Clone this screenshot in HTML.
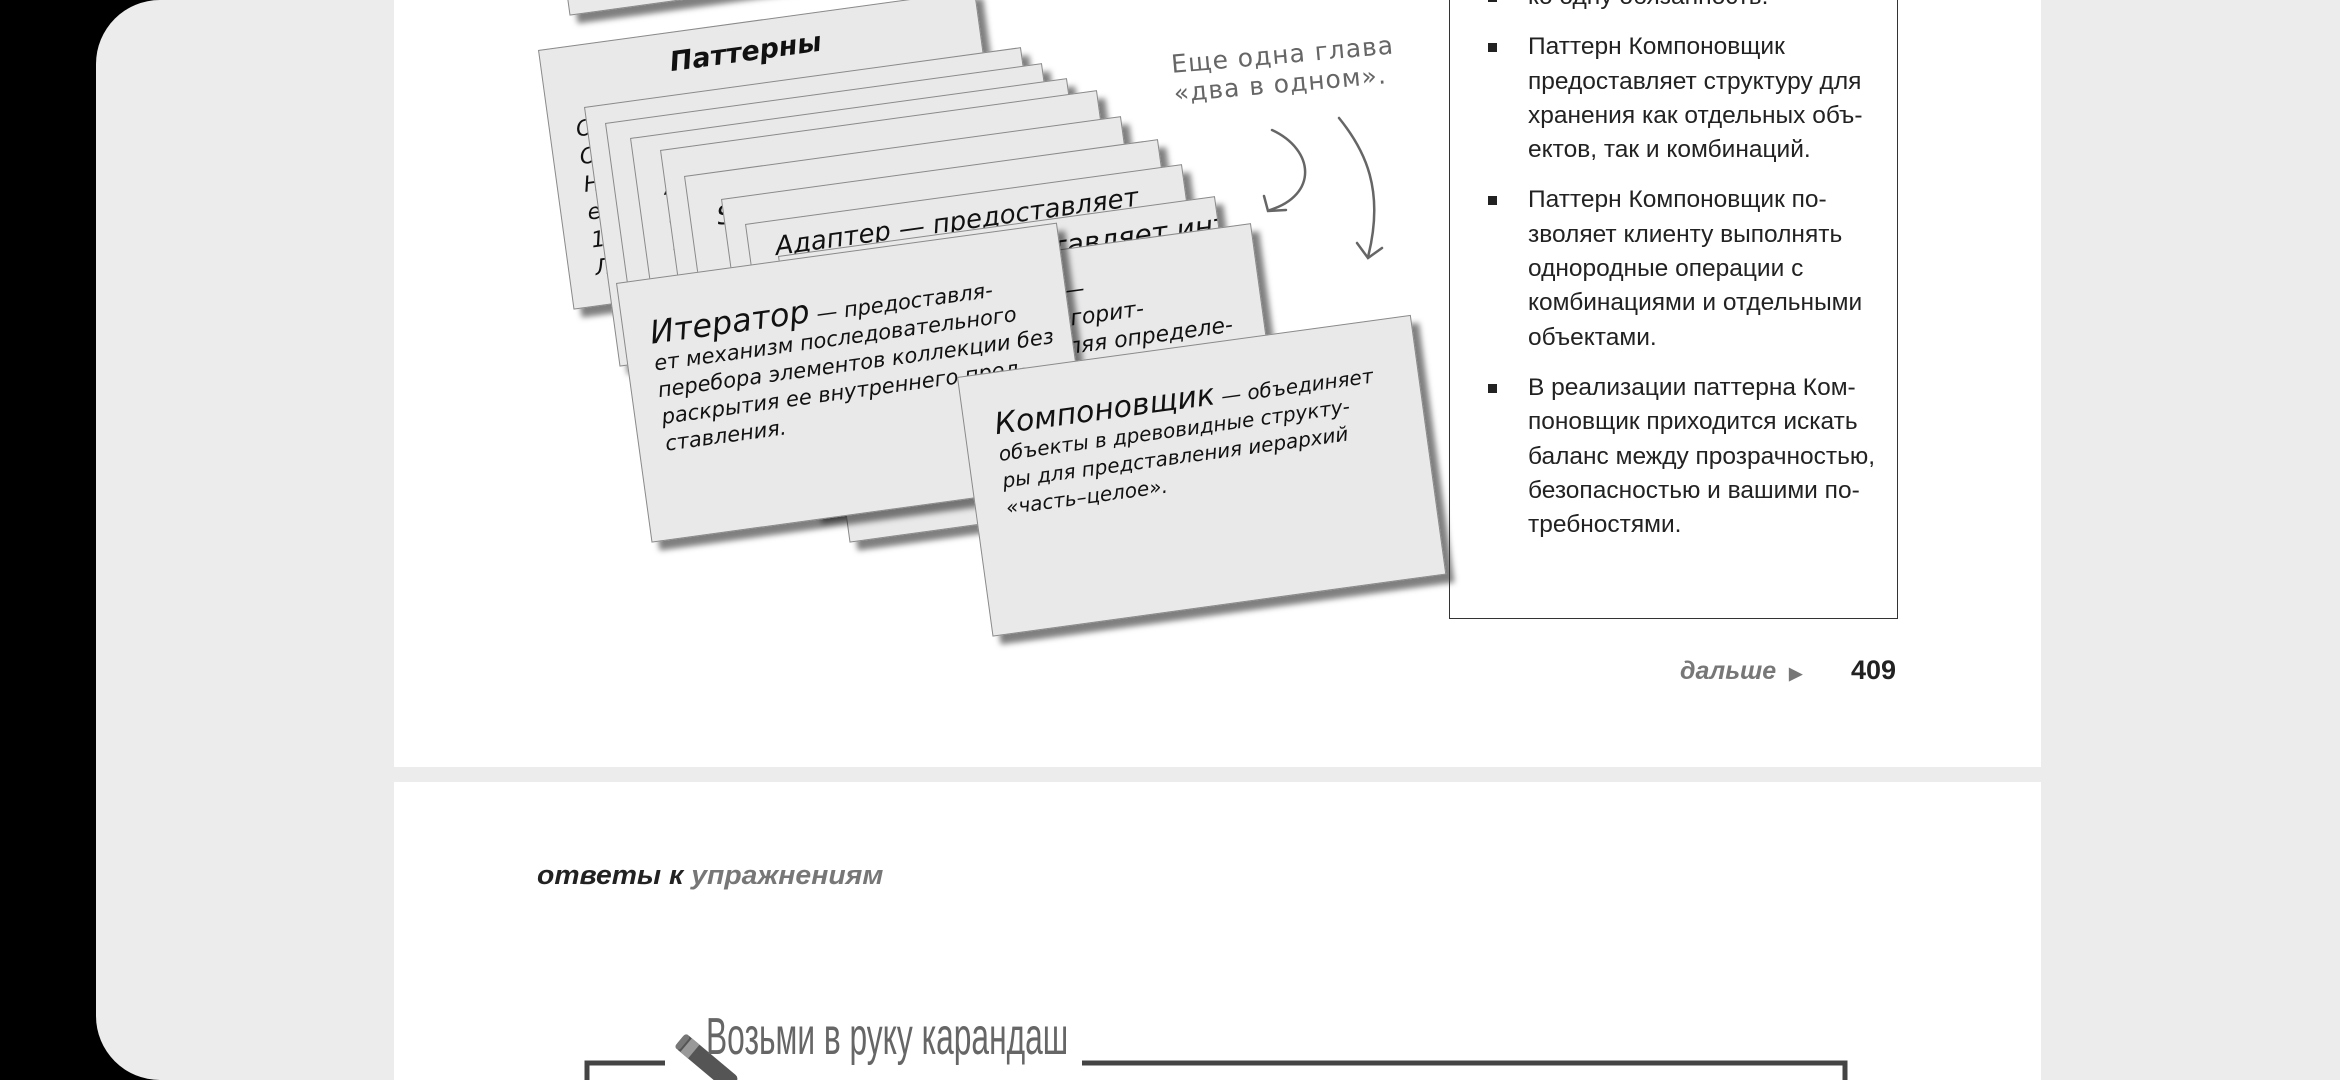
<!DOCTYPE html>
<html><head><meta charset="utf-8"><style>
*{margin:0;padding:0;box-sizing:border-box}
body{width:2340px;height:1080px;background:#000;position:relative;overflow:hidden;font-family:"Liberation Sans",sans-serif}
.panel{position:absolute;left:96px;top:0;width:2300px;height:1080px;background:#ececec;border-radius:64px 0 0 64px}
.page{position:absolute;left:394px;width:1647px;background:#fff}
.card{position:absolute;width:441px;height:262px;background:#e9e9ea;border:1px solid #8a8a8a;transform-origin:0 0;transform:rotate(-7.8deg);box-shadow:7px 9px 6px rgba(0,0,0,.5);font-family:"DejaVu Sans","Liberation Sans",sans-serif;font-style:italic;color:#111;overflow:hidden}
.card .t{position:absolute;left:26px;top:40px;font-size:22px;white-space:nowrap;line-height:28px}
.box{position:absolute;left:1449px;top:-20px;width:449px;height:639px;border:1.5px solid #333}
ul{list-style:none;position:absolute;left:1528px;top:-20px;font-size:24.5px;line-height:34.3px;color:#222}
li{position:relative;margin-bottom:16px}
li:before{content:"";position:absolute;left:-40px;top:13px;width:9px;height:9px;background:#222}
</style></head><body>
<div class="panel"></div>
<div class="page" style="top:0;height:767px"></div>
<div class="page" style="top:782px;height:298px"></div>

<div class="card" style="left:534px;top:-244px"></div>
<div class="card" style="left:538px;top:50px;"><div style="position:absolute;left:128px;top:14px;font-size:27px;font-weight:bold">Паттерны</div><div class="t" style="top:70px">О<br>О<br>Н<br>е<br>1<br>Л</div></div>
<div class="card" style="left:584px;top:107px"><div class="t">Decorator — Attach additional<br>c<br>r<br>e</div></div>
<div class="card" style="left:605px;top:123px"><div class="t">Decorator — Attach additional<br>c<br>f<br>e</div></div>
<div class="card" style="left:630px;top:138px"><div class="t">Abstract Factory — Provide an<br>in<br>re<br>sp</div></div>
<div class="card" style="left:660px;top:150px"><div class="t" style="top:28px">Factory Method — Define an</div></div>
<div class="card" style="left:684px;top:176px"><div class="t" style="top:30px;font-size:26px">Singleton — Ensure a class</div></div>
<div class="card" style="left:721px;top:199px"><div class="t" style="top:30px;font-size:26px">Command — Encapsulates<br>С</div></div>
<div class="card" style="left:745px;top:224px"><div class="t" style="top:12px;font-size:26px">Адаптер — предоставляет</div></div>
<div class="card" style="left:778px;top:256px"><div class="t" style="top:14px;font-size:28px">Фасад — предоставляет интерфейс</div></div>
<div class="card" style="left:814px;top:283px"><div class="t" style="top:28px;font-size:22px;left:20px">Шаблонный метод —<br>задает «скелет» алгорит-<br>ма в методе, оставляя определе-<br>ние некоторых шагов</div></div>
<div class="card" style="left:616px;top:283px;width:445px;height:262px"><div class="t" style="top:40px;left:26px;line-height:27px;font-size:21px"><span style="font-size:32px;font-style:italic">Итератор</span> — предоставля-<br>ет механизм последовательного<br>перебора элементов коллекции без<br>раскрытия ее внутреннего пред-<br>ставления.</div></div>
<div class="card" style="left:957px;top:377px;width:458px;height:262px"><div class="t" style="top:38px;left:30px;line-height:27px;font-size:20px"><span style="font-size:30px">Компоновщик</span> — объединяет<br>объекты в древовидные структу-<br>ры для представления иерархий<br>«часть–целое».</div></div>

<div style="position:absolute;left:1170px;top:50px;font-size:25px;line-height:29px;color:#666;font-family:'DejaVu Sans',sans-serif;transform:rotate(-5deg);transform-origin:0 0;letter-spacing:1px">Еще одна глава<br>«два в одном».</div>
<svg style="position:absolute;left:0;top:0" width="2340" height="1080">
<g fill="none" stroke="#666" stroke-width="2.5" stroke-linecap="round">
<path d="M1272 130 C1315 150 1318 195 1270 210"/><path d="M1264 196 L1268 211 L1286 210"/>
<path d="M1339 118 C1365 150 1385 190 1368 257"/><path d="M1357 243 L1368 258 L1382 248"/>
</g>
<g stroke="#444" stroke-width="5" fill="none"><path d="M587 1080 V1063 H665"/><path d="M1082 1063 H1845 V1080"/></g>
<g transform="translate(680 1040) rotate(40)"><rect x="0" y="-9" width="70" height="18" rx="5" fill="#555"/><rect x="8" y="-9" width="10" height="18" fill="#999"/><rect x="0" y="-9" width="6" height="18" rx="3" fill="#777"/></g>
</svg>

<div class="box"></div>
<ul>
<li style="margin-bottom:16px">ко одну обязанность.</li>
<li>Паттерн Компоновщик<br>предоставляет структуру для<br>хранения как отдельных объ-<br>ектов, так и комбинаций.</li>
<li>Паттерн Компоновщик по-<br>зволяет клиенту выполнять<br>однородные операции с<br>комбинациями и отдельными<br>объектами.</li>
<li>В реализации паттерна Ком-<br>поновщик приходится искать<br>баланс между прозрачностью,<br>безопасностью и вашими по-<br>требностями.</li>
</ul>
<div style="position:absolute;left:1680px;top:657px;font-size:25px;font-weight:bold;font-style:italic;color:#777">дальше <span style="font-size:17px;font-style:normal;margin-left:6px">▶</span></div>
<div style="position:absolute;left:1851px;top:655px;font-size:27px;font-weight:bold;color:#222">409</div>
<div style="position:absolute;left:537px;top:860px;font-size:27px;font-weight:bold;font-style:italic;transform:scaleX(1.05);transform-origin:0 0"><span style="color:#222">ответы к</span> <span style="color:#777">упражнениям</span></div>
<div style="position:absolute;left:706px;top:1007px;font-size:52px;color:#666;white-space:nowrap;transform:scaleX(.61);transform-origin:0 0;line-height:60px">Возьми в руку карандаш</div>
</body></html>
